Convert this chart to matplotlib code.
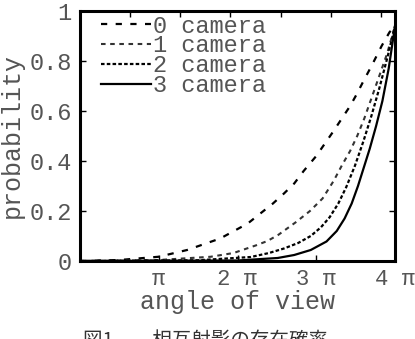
"""Probability of mutual projection vs. angle of view (0-3 cameras)."""

import matplotlib

matplotlib.use("Agg")
import matplotlib.pyplot as plt
import numpy as np
from matplotlib.ticker import FixedLocator

# angle of view in multiples of pi, probability
cam0_angle = [0, 0.5, 1.0, 1.36, 1.78, 2.13, 2.29, 2.45, 2.59, 2.72, 2.84, 3.0,
              3.22, 3.43, 3.51, 3.6, 3.71, 3.83, 3.93, 4.0]
cam0_prob = [0, 0.004, 0.017, 0.044, 0.09, 0.15, 0.19, 0.23, 0.27, 0.31, 0.36, 0.42,
             0.52, 0.62, 0.665, 0.72, 0.785, 0.86, 0.915, 0.94]

cam1_angle = [0, 1.0, 1.66, 1.95, 2.23, 2.38, 2.52, 2.74, 2.92, 3.08, 3.22, 3.33,
              3.43, 3.52, 3.61, 3.7, 3.8, 3.9, 4.0]
cam1_prob = [0, 0.004, 0.017, 0.032, 0.062, 0.08, 0.105, 0.155, 0.20, 0.25, 0.32, 0.385,
             0.44, 0.50, 0.57, 0.65, 0.74, 0.83, 0.94]

cam2_angle = [0, 1.5, 2.17, 2.4, 2.59, 2.77, 2.93, 3.06, 3.17, 3.28, 3.38, 3.49,
              3.6, 3.7, 3.8, 3.9, 4.0]
cam2_prob = [0, 0.003, 0.016, 0.032, 0.05, 0.072, 0.10, 0.135, 0.175, 0.23, 0.295, 0.38,
             0.48, 0.58, 0.69, 0.81, 0.94]

cam3_angle = [0, 2.0, 2.51, 2.72, 2.93, 3.13, 3.26, 3.36, 3.45, 3.53, 3.6, 3.68,
              3.76, 3.84, 3.92, 4.0]
cam3_prob = [0, 0.002, 0.012, 0.024, 0.044, 0.078, 0.12, 0.17, 0.23, 0.30, 0.37, 0.45,
             0.54, 0.64, 0.77, 0.94]

labels = ["0 camera", "1 camera", "2 camera", "3 camera"]
x_ticks_pi = [1, 2, 3, 4]
x_tick_labels = ["π", "2 π", "3 π", "4 π"]
y_ticks = [0, 0.2, 0.4, 0.6, 0.8, 1]
y_tick_labels = ["0", "0.2", "0.4", "0.6", "0.8", "1"]
caption = "図1\u3000\u3000相互射影の存在確率"

TEXT = "#555555"
MONO = "Liberation Mono"

fig = plt.figure(figsize=(4.15, 3.39), dpi=100)
ax = fig.add_axes([80 / 415, 78 / 339, 315 / 415, 250 / 339])

styles = [
    dict(color="black", lw=1.6, dashes=(2.8, 3.8)),
    dict(color="#333333", lw=1.5, dashes=(2.2, 2.2)),
    dict(color="black", lw=1.6, dashes=(1.6, 1.0)),
    dict(color="black", lw=1.6, linestyle="-"),
]
series = [
    (cam0_angle, cam0_prob),
    (cam1_angle, cam1_prob),
    (cam2_angle, cam2_prob),
    (cam3_angle, cam3_prob),
]
for (ang, prob), label, st in zip(series, labels, styles):
    ax.plot(np.array(ang) * np.pi, prob, label=label, **st)

ax.set_xlim(0, 4 * np.pi)
ax.set_ylim(0, 1)

# bottom ticks at multiples of pi, top ticks every 2 rad (unlabelled)
ax.set_xticks(np.array(x_ticks_pi) * np.pi)
ax.set_xticklabels(x_tick_labels, family=MONO, fontsize=16, color=TEXT)
ax.set_yticks(y_ticks)
ax.set_yticklabels(y_tick_labels, family=MONO, fontsize=17, color=TEXT)
ax.tick_params(direction="in", length=4, width=1, top=False, right=True, pad=6)

top = ax.secondary_xaxis("top")
top.xaxis.set_major_locator(FixedLocator([2, 4, 6, 8, 10, 12]))
top.tick_params(direction="in", length=4, width=1, labeltop=False)
top.spines["top"].set_visible(False)

for sp in ax.spines.values():
    sp.set_linewidth(2.2)

ax.set_xlabel("angle of view", family=MONO, fontsize=18, color=TEXT, labelpad=0)
ax.set_ylabel("probability", family=MONO, fontsize=18, color=TEXT, labelpad=4)

leg = ax.legend(
    loc="upper left",
    bbox_to_anchor=(0.015, 1.052),
    frameon=False,
    prop={"family": MONO, "size": 17},
    handlelength=2.1,
    handletextpad=0.1,
    labelspacing=-0.13,
    borderpad=0.2,
)
for t in leg.get_texts():
    t.set_color(TEXT)

fig.text(83 / 415, 1 - 330 / 339, caption, family="Noto Sans CJK JP",
         fontsize=14, color="#333333", va="top", ha="left")

fig.savefig("out.png", dpi=100)
